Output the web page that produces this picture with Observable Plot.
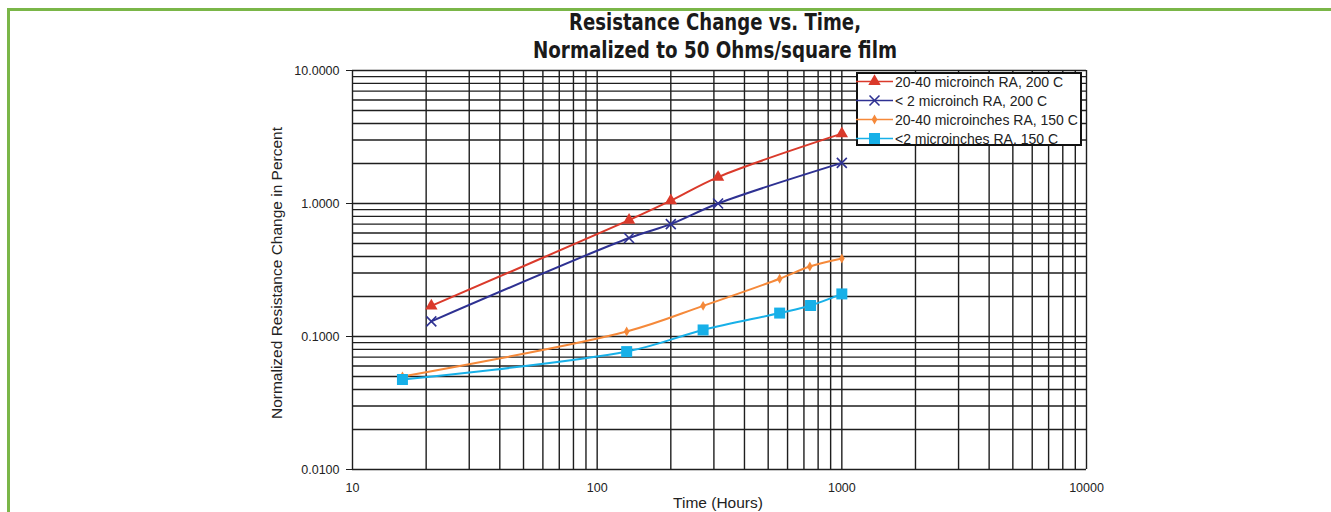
<!DOCTYPE html>
<html>
<head>
<meta charset="utf-8">
<script src="https://cdn.jsdelivr.net/npm/d3@7"></script>
<script src="https://cdn.jsdelivr.net/npm/@observablehq/plot@0.6"></script>
<style>
  body { margin: 0; background: #fff; }
  #wrap { position: relative; width: 1331px; height: 512px; overflow: hidden; background: #fff;
          font-family: "Liberation Sans", Arial, Helvetica, sans-serif; color: #222; }
  #border { position: absolute; left: 7px; top: 8px; width: 1400px; height: 600px;
            border-left: 3px solid #7ab648; border-top: 3px solid #7ab648; }
  #title { position: absolute; left: 0; top: 0; }
  #chart { position: absolute; left: 0; top: 60px; }
  .axtitle { position: absolute; white-space: nowrap; font-size: 15.5px; color: #222; line-height: 1; }
  #legend { position: absolute; left: 856px; top: 72px; width: 226px; height: 74px; box-sizing: border-box;
            border: 2px solid #111; background: #fff; }
  .lrow { position: absolute; left: -2px; height: 19px; display: flex; align-items: center; font-size: 14px; white-space: nowrap; }
  .lrow svg { display: block; margin-right: 2px; }
</style>
</head>
<body>
<div id="wrap">
  <div id="border"></div>
  <svg id="title" width="1331" height="62"></svg>
  <div id="chart"></div>
  <div id="legend"></div>
  <div class="axtitle" id="ytitle"></div>
  <div class="axtitle" id="xtitle"></div>
</div>
<script>
// ---- Data ----
const titleLines = ["Resistance Change vs. Time,", "Normalized to 50 Ohms/square film"];
const xTitle = "Time (Hours)";
const yTitle = "Normalized Resistance Change in Percent";

const seriesNames = [
  "20-40 microinch RA, 200 C",
  "< 2 microinch RA, 200 C",
  "20-40 microinches RA, 150 C",
  "<2 microinches RA, 150 C"
];
const seriesColors = ["#da3a2b", "#2e3192", "#f5893a", "#17b0e8"];
const seriesSymbols = ["triangle", "times", "diamond", "square"];

const hoursRed    = [21, 135, 200, 312, 1000];
const valuesRed   = [0.17, 0.75, 1.05, 1.58, 3.35];
const hoursBlue   = [21, 135, 200, 312, 1000];
const valuesBlue  = [0.13, 0.55, 0.70, 1.00, 2.02];
const hoursOrange = [16, 132, 271, 557, 740, 1000];
const valuesOrange= [0.050, 0.109, 0.170, 0.272, 0.336, 0.386];
const hoursCyan   = [16, 132, 271, 557, 745, 1000];
const valuesCyan  = [0.0475, 0.077, 0.112, 0.150, 0.171, 0.209];

const xTicks = [10, 100, 1000, 10000];
const yTicks = [0.01, 0.1, 1, 10];
const xDomain = [10, 10000];
const yDomain = [0.01, 10];

// ---- Build table ----
const allHours = [hoursRed, hoursBlue, hoursOrange, hoursCyan];
const allValues = [valuesRed, valuesBlue, valuesOrange, valuesCyan];
const rows = [];
seriesNames.forEach((name, s) => {
  allHours[s].forEach((h, i) => rows.push({series: name, hours: h, value: allValues[s][i]}));
});

const xGrid = d3.scaleLog().domain(xDomain).ticks();
const yGrid = d3.scaleLog().domain(yDomain).ticks();

const symbolR = {triangle: 4.6, times: 4.6, diamond: 3.0, square: 6.2};

const lineMarks = [];
const dotMarks = [];
seriesNames.forEach((name, s) => {
  const data = rows.filter(d => d.series === name);
  lineMarks.push(Plot.line(data, {x: "hours", y: "value", stroke: seriesColors[s], strokeWidth: 2, curve: "catmull-rom"}));
  const sym = seriesSymbols[s];
  if (sym === "times") {
    dotMarks.push(Plot.dot(data, {x: "hours", y: "value", symbol: sym, r: symbolR[sym], stroke: seriesColors[s], strokeWidth: 1.6}));
  } else {
    dotMarks.push(Plot.dot(data, {x: "hours", y: "value", symbol: sym, r: symbolR[sym], fill: seriesColors[s], stroke: "none"}));
  }
});

const chart = Plot.plot({
  width: 1331,
  height: 452,
  marginLeft: 352,
  marginRight: 245,
  marginTop: 10,
  marginBottom: 43,
  style: {fontFamily: '"Liberation Sans", Arial, Helvetica, sans-serif', fontSize: "12.5px", color: "#222", background: "transparent", overflow: "visible"},
  x: {type: "log", domain: xDomain},
  y: {type: "log", domain: yDomain},
  marks: [
    Plot.ruleX(xGrid, {stroke: "#1e1e1e", strokeWidth: 1.4}),
    Plot.ruleY(yGrid, {stroke: "#1e1e1e", strokeWidth: 1.4}),
    Plot.axisY({ticks: yTicks, tickFormat: d3.format(".4f"), tickSize: 6, tickPadding: 7, label: null, stroke: "#1e1e1e"}),
    Plot.axisX({ticks: xTicks, tickFormat: d3.format("d"), tickSize: 0, tickPadding: 14, label: null}),
    ...lineMarks,
    ...dotMarks
  ]
});
document.getElementById("chart").appendChild(chart);

// ---- Title ----
const tsvg = d3.select("#title");
const tspec = [{y: 30, len: 292}, {y: 58, len: 364}];
titleLines.forEach((t, i) => {
  tsvg.append("text")
    .attr("x", 715).attr("y", tspec[i].y)
    .attr("text-anchor", "middle")
    .attr("textLength", tspec[i].len)
    .attr("lengthAdjust", "spacingAndGlyphs")
    .style("font-family", '"Liberation Sans Narrow", "DejaVu Sans Condensed", "Liberation Sans", Arial, sans-serif')
    .style("font-weight", "bold")
    .style("font-size", "23px")
    .style("fill", "#1a1a1a")
    .text(t);
});

// ---- Axis titles ----
const yt = document.getElementById("ytitle");
yt.textContent = yTitle;
yt.style.left = "277px"; yt.style.top = "273px";
yt.style.transform = "translate(-50%,-50%) rotate(-90deg)";
const xt = document.getElementById("xtitle");
xt.textContent = xTitle;
xt.style.left = "718px"; xt.style.top = "503px";
xt.style.transform = "translate(-50%,-50%)";

// ---- Legend ----
const legend = d3.select("#legend");
seriesNames.forEach((name, s) => {
  const row = legend.append("div").attr("class", "lrow").style("top", (-1.8 + 19 * s) + "px");
  const sv = row.append("svg").attr("width", 37).attr("height", 19);
  sv.append("line").attr("x1", 0).attr("x2", 37).attr("y1", 9.5).attr("y2", 9.5)
    .attr("stroke", seriesColors[s]).attr("stroke-width", 1.6);
  const sym = seriesSymbols[s];
  const symMap = {triangle: d3.symbolTriangle, times: d3.symbolTimes, diamond: d3.symbolDiamond, square: d3.symbolSquare};
  const r = symbolR[sym];
  const p = sv.append("path").attr("transform", "translate(18.5,9.5)")
    .attr("d", d3.symbol(symMap[sym], Math.PI * r * r)());
  if (sym === "times") p.attr("fill", "none").attr("stroke", seriesColors[s]).attr("stroke-width", 1.6);
  else p.attr("fill", seriesColors[s]);
  row.append("span").text(name);
});
</script>
</body>
</html>
